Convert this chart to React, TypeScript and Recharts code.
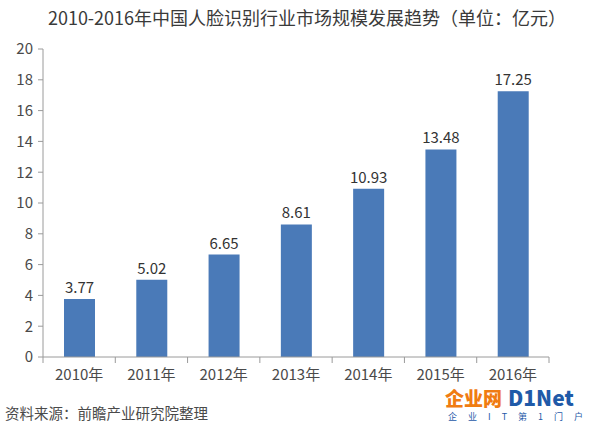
import { BarChart, Bar, XAxis, YAxis, LabelList } from "recharts"

const years = ["2010年", "2011年", "2012年", "2013年", "2014年", "2015年", "2016年"]
const marketSize = [3.77, 5.02, 6.65, 8.61, 10.93, 13.48, 17.25]
const yTicks = [0, 2, 4, 6, 8, 10, 12, 14, 16, 18, 20]

const data = years.map((year, i) => ({ year, value: marketSize[i] }))

const FONT = '"Noto Sans CJK SC", "Noto Sans", sans-serif'
const AXIS = "#9a9a9a"
const TEXT = "#4a4a4a"
const PLOT_LEFT = 43
const PLOT_RIGHT = 549
const BAND = (PLOT_RIGHT - PLOT_LEFT) / years.length

function YearTick(props: any) {
  const { x, y, payload, index } = props
  const left = x - BAND / 2
  return (
    <g>
      <line x1={left} y1={y} x2={left} y2={y + 6} stroke={AXIS} />
      {index === years.length - 1 && (
        <line x1={x + BAND / 2} y1={y} x2={x + BAND / 2} y2={y + 6} stroke={AXIS} />
      )}
      <text x={x} y={y + 23} textAnchor="middle" fontSize={15} fill={TEXT} fontFamily={FONT}>
        {payload.value}
      </text>
    </g>
  )
}

export default function App() {
  return (
    <div style={{ position: "fixed", top: 0, left: 0, width: 600, height: 424, background: "#fff", fontFamily: FONT }}>
      <div
        style={{
          position: "absolute",
          top: 4,
          left: 0,
          width: 614,
          textAlign: "center",
          fontSize: 18,
          color: "#3a3a3a",
          lineHeight: "26px",
        }}
      >
        2010-2016年中国人脸识别行业市场规模发展趋势（单位：亿元）
      </div>
      <BarChart
        width={600}
        height={424}
        data={data}
        margin={{ top: 49, right: 600 - PLOT_RIGHT, left: 0, bottom: 37 }}
        barSize={31}
      >
        <XAxis
          dataKey="year"
          height={30}
          stroke={AXIS}
          tickLine={false}
          tickSize={0}
          tickMargin={0}
          tick={<YearTick />}
          interval={0}
        />
        <YAxis
          width={PLOT_LEFT}
          domain={[0, 20]}
          ticks={yTicks}
          interval={0}
          stroke={AXIS}
          tickSize={5}
          tickMargin={5}
          tick={{ fontSize: 15, fill: TEXT, fontFamily: FONT }}
        />
        <Bar dataKey="value" fill="#4a7ab8" isAnimationActive={false}>
          <LabelList
            dataKey="value"
            position="top"
            offset={6}
            formatter={(v: any) => Number(v).toFixed(2)}
            style={{ fontSize: 15, fill: "#333", fontFamily: FONT }}
          />
        </Bar>
      </BarChart>
      <div style={{ position: "absolute", left: 5, top: 403, fontSize: 14.5, color: TEXT, lineHeight: "20px" }}>
        资料来源：前瞻产业研究院整理
      </div>
      <div
        style={{
          position: "absolute",
          left: 445,
          top: 386,
          height: 22,
          lineHeight: "22px",
          fontWeight: 900,
          fontSize: 19,
          whiteSpace: "nowrap",
        }}
      >
        <span style={{ color: "#f07c12" }}>企业网</span>
        <span style={{ color: "#1f5aa8", marginLeft: 6, fontSize: 21 }}>D1Net</span>
      </div>
      <div
        style={{
          position: "absolute",
          left: 448,
          top: 411,
          fontSize: 9,
          color: "#1f5aa8",
          letterSpacing: 11,
          lineHeight: "12px",
          whiteSpace: "nowrap",
        }}
      >
        企业IT第1门户
      </div>
    </div>
  )
}
